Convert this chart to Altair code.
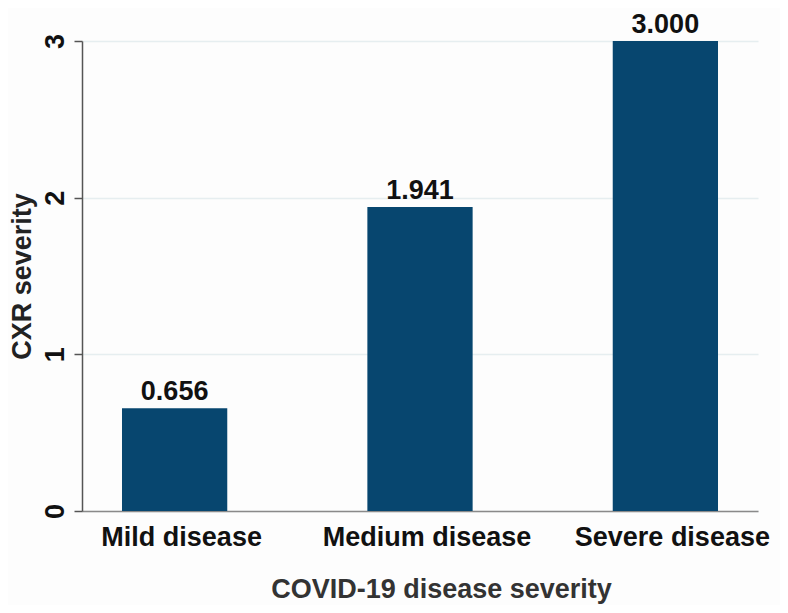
import altair as alt
import pandas as pd

categories = ["Mild disease", "Medium disease", "Severe disease"]
values = [0.656, 1.941, 3.000]
labels = ["0.656", "1.941", "3.000"]

df = pd.DataFrame({"cat": categories, "val": values, "lab": labels})

FONT = "Liberation Sans"
BAR = "#07466f"
FS = 27

x = alt.X("cat:N", sort=categories, title="COVID-19 disease severity",
          scale=alt.Scale(paddingInner=0.571, paddingOuter=0.163),
          axis=alt.Axis(labelAngle=0, labelFontSize=FS, labelFontWeight="bold",
                        labelColor="#111111", labelFont=FONT, labelPadding=13,
                        labelLimit=0, labelOffset=7,
                        ticks=False, domainColor="#8a8a8a", domainWidth=1.5,
                        titleFontSize=FS, titleFontWeight="bold", titleColor="#333333",
                        titleFont=FONT, titlePadding=26, titleX=359, titleAlign="center"))

y = alt.Y("val:Q", title="CXR severity",
          scale=alt.Scale(domain=[0, 3], nice=False),
          axis=alt.Axis(values=[0, 1, 2, 3], format="d", labelAngle=270,
                        labelAlign="center", labelBaseline="bottom",
                        labelFontSize=FS, labelFontWeight="bold", labelColor="#111111",
                        labelFont=FONT, labelPadding=5, tickSize=8, tickColor="#555555",
                        tickWidth=1.5, domainColor="#555555", domainWidth=1.5,
                        grid=True, gridColor="#e6eef0", gridWidth=1.5,
                        titleFontSize=FS, titleFontWeight="bold", titleColor="#222222",
                        titleFont=FONT, titlePadding=5))

bars = alt.Chart(df).mark_bar(color=BAR).encode(x=x, y=y)
text = alt.Chart(df).mark_text(baseline="alphabetic", dy=-8, fontSize=FS,
                               fontWeight="bold", font=FONT, color="#111111").encode(
    x=alt.X("cat:N", sort=categories), y=alt.Y("val:Q"), text="lab:N")

chart = alt.layer(bars, text).properties(
    width=676, height=470,
    autosize=alt.AutoSizeParams(type="none"),
    padding={"left": 74, "top": 33, "right": 22, "bottom": 94},
    background="#fdfdfd",
).configure_view(stroke=None)

chart.save("out.html", embed_options={"renderer": "svg", "actions": False})
